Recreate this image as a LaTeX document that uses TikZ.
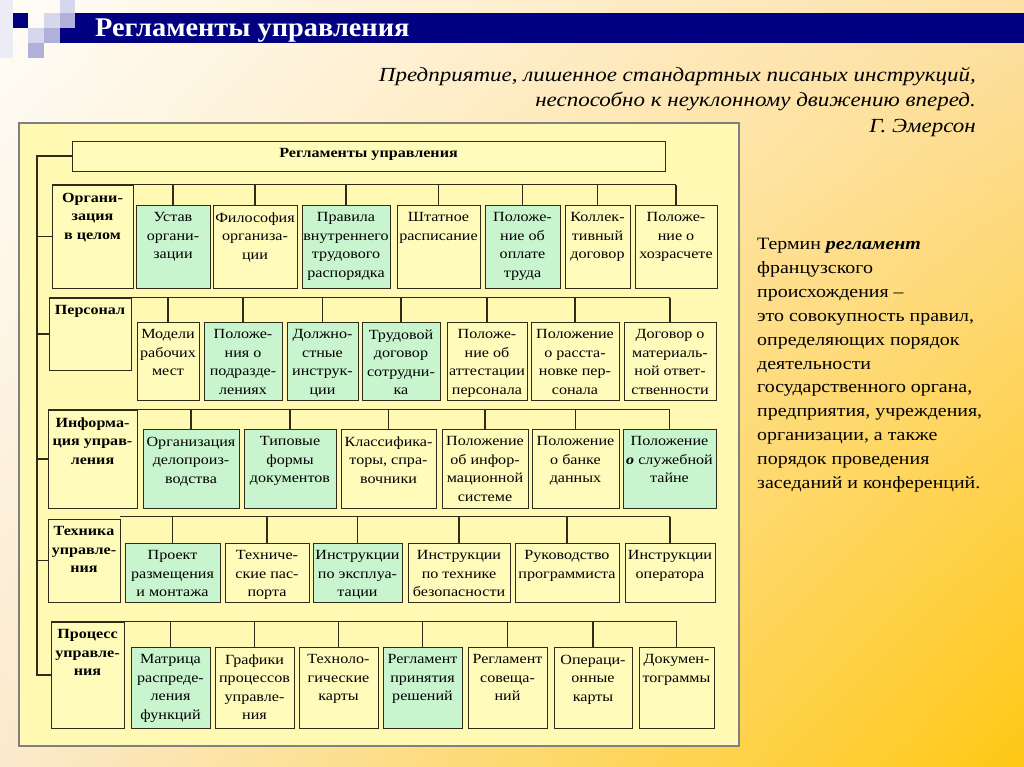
\documentclass[tikz,border=0pt]{standalone}
\usepackage{fontspec}
\setmainfont{Liberation Serif}[FakeStretch=1.15]
\newfontfamily\titlefont{Liberation Serif}[FakeStretch=1.05]
\usetikzlibrary{fit,shadings}

\definecolor{navy}{RGB}{0,0,128}
\definecolor{lavlight}{RGB}{214,214,236}
\definecolor{lavmid}{RGB}{176,176,218}
\definecolor{lavfaint}{RGB}{236,236,246}
\definecolor{bgul}{RGB}{255,253,248}
\definecolor{bgur}{RGB}{253,224,165}
\definecolor{bgll}{RGB}{251,234,205}
\definecolor{bglr}{RGB}{255,200,20}
\definecolor{panelfill}{RGB}{255,249,180}
\definecolor{boxyellow}{RGB}{255,251,186}
\definecolor{boxgreen}{RGB}{200,245,205}
\definecolor{boxline}{RGB}{45,45,25}

\newcommand{\regbox}[6][lbl]{%
  \node[#3, fit={(#4) (#5)}] (#2) {};
  \node[#1] (#2-t) at ([yshift=-8pt]#2.north) {#6};}

\begin{document}
\begin{tikzpicture}[x=1pt,y=-1pt,
	ybox/.style={draw=boxline, fill=boxyellow, line width=0.9pt, inner sep=0pt},
	gbox/.style={draw=boxline, fill=boxgreen, line width=0.9pt, inner sep=0pt},
	lbl/.style={anchor=north, align=center, inner sep=0pt, font=\fontsize{14}{18.5}\selectfont},
	catlbl/.style={lbl, font=\bfseries\fontsize{14}{18.5}\selectfont},
	link/.style={line width=1.3pt, draw=boxline}]
	
	% background
	\shade[upper left=bgul, upper right=bgur, lower left=bgll, lower right=bglr]
	(0,0) rectangle (1024,767);
	
	% corner squares and title bar
	\fill[lavfaint] (0,0) rectangle (13,58);
	\fill[navy] (13,13) rectangle (28,28);
	\fill[lavlight] (60,0) rectangle (75,13);
	\fill[lavlight] (44,13) rectangle (60,28);
	\fill[lavmid] (60,13) rectangle (75,28);
	\fill[lavlight] (28,28) rectangle (44,43);
	\fill[lavmid] (44,28) rectangle (60,43);
	\fill[lavmid] (28,43) rectangle (44,58);
	\fill[navy] (75,13) rectangle (1024,43);
	\fill[navy] (60,28) rectangle (75,43);
	\node[anchor=base west, inner sep=0pt, text=white, font=\titlefont\bfseries\fontsize{27}{30}\selectfont] (title) at (95,37) {Регламенты управления};
	
	% quote
	\node[anchor=north east, align=right, inner sep=0pt, font=\itshape\fontsize{20}{25.5}\selectfont] (quote) at (976,67)
	{Предприятие, лишенное стандартных писаных инструкций,\\
	 неспособно к неуклонному движению вперед.\\
	 Г. Эмерсон};
	
	% panel
	\draw[line width=2pt, draw=gray, fill=panelfill] (19,123) rectangle (739,746);
	
	% head box
	\regbox[catlbl]{top}{ybox}{72,141}{665,171}{Регламенты управления}
	
	% row 1
	\regbox[catlbl]{org}{ybox}{52,185}{133,288}{Органи-\\зация\\в целом}
	\regbox{o1}{gbox}{136,205}{210,288}{Устав\\органи-\\зации}
	\regbox{o2}{ybox}{213,205}{297,288}{Философия\\организа-\\ции}
	\regbox{o3}{gbox}{302,205}{390,288}{Правила\\внутреннего\\трудового\\распорядка}
	\regbox{o4}{ybox}{397,205}{480,288}{Штатное\\расписание}
	\regbox{o5}{gbox}{485,205}{560,288}{Положе-\\ние об\\оплате\\труда}
	\regbox{o6}{ybox}{565,205}{630,288}{Коллек-\\тивный\\договор}
	\regbox{o7}{ybox}{635,205}{717,288}{Положе-\\ние о\\хозрасчете}
	
	% row 2
	\regbox[catlbl]{pers}{ybox}{49,298}{131,370}{Персонал}
	\regbox{p1}{ybox}{137,322}{199,400}{Модели\\рабочих\\мест}
	\regbox{p2}{gbox}{204,322}{282,400}{Положе-\\ния о\\подразде-\\лениях}
	\regbox{p3}{gbox}{287,322}{358,400}{Должно-\\стные\\инструк-\\ции}
	\regbox{p4}{gbox}{362,322}{440,400}{Трудовой\\договор\\сотрудни-\\ка}
	\regbox{p5}{ybox}{447,322}{527,400}{Положе-\\ние об\\аттестации\\персонала}
	\regbox{p6}{ybox}{531,322}{619,400}{Положение\\о расста-\\новке пер-\\сонала}
	\regbox{p7}{ybox}{624,322}{716,400}{Договор о\\материаль-\\ной ответ-\\ственности}
	
	% row 3
	\regbox[catlbl]{info}{ybox}{48,410}{137,508}{Информа-\\ция управ-\\ления}
	\regbox{i1}{gbox}{143,429}{239,508}{Организация\\делопроиз-\\водства}
	\regbox{i2}{gbox}{244,429}{336,508}{Типовые\\формы\\документов}
	\regbox{i3}{ybox}{341,429}{436,508}{Классифика-\\торы, спра-\\вочники}
	\regbox{i4}{ybox}{442,429}{528,508}{Положение\\об инфор-\\мационной\\системе}
	\regbox{i5}{ybox}{532,429}{619,508}{Положение\\о банке\\данных}
	\regbox{i6}{gbox}{623,429}{716,508}{Положение\\{\bfseries\itshape о} служебной\\тайне}
	
	% row 4
	\regbox[catlbl]{tech}{ybox}{48,519}{120,602}{Техника\\управле-\\ния}
	\regbox{t1}{gbox}{125,543}{220,602}{Проект\\размещения\\и монтажа}
	\regbox{t2}{ybox}{225,543}{309,602}{Техниче-\\ские пас-\\порта}
	\regbox{t3}{gbox}{313,543}{402,602}{Инструкции\\по эксплуа-\\тации}
	\regbox{t4}{ybox}{408,543}{510,602}{Инструкции\\по технике\\безопасности}
	\regbox{t5}{ybox}{515,543}{619,602}{Руководство\\программиста}
	\regbox{t6}{ybox}{625,543}{715,602}{Инструкции\\оператора}
	
	% row 5
	\regbox[catlbl]{proc}{ybox}{51,622}{124,728}{Процесс\\управле-\\ния}
	\regbox{s1}{gbox}{131,647}{210,728}{Матрица\\распреде-\\ления\\функций}
	\regbox{s2}{ybox}{215,647}{294,728}{Графики\\процессов\\управле-\\ния}
	\regbox{s3}{ybox}{299,647}{378,728}{Техноло-\\гические\\карты}
	\regbox{s4}{gbox}{383,647}{462,728}{Регламент\\принятия\\решений}
	\regbox{s5}{ybox}{468,647}{547,728}{Регламент\\совеща-\\ний}
	\regbox{s6}{ybox}{554,647}{632,728}{Операци-\\онные\\карты}
	\regbox{s7}{ybox}{639,647}{714,728}{Докумен-\\тограммы}
	
	% spine
	\coordinate (spine) at (37,0);
	\draw[link] (top.west) -- (top.west -| spine) -- (proc.west -| spine) -- (proc.west);
	\foreach \c in {org,pers,info,tech}
	\draw[link] (\c.west) -- (\c.west -| spine);
	
	% buses
	\draw[link] (org.north west) -- (org.north west -| o7.north);
	\foreach \b in {o1,o2,o3,o4,o5,o6,o7}
	\draw[link] (\b.north) -- (\b.north |- org.north);
	
	\draw[link] (pers.north west) -- (pers.north west -| p7.north);
	\foreach \b in {p1,p2,p3,p4,p5,p6,p7}
	\draw[link] (\b.north) -- (\b.north |- pers.north);
	
	\draw[link] (info.north west) -- (info.north west -| i6.north);
	\foreach \b in {i1,i2,i3,i4,i5,i6}
	\draw[link] (\b.north) -- (\b.north |- info.north);
	
	\draw[link] ([yshift=2pt]tech.north east) -- ([yshift=2pt]tech.north east -| t6.north);
	\foreach \b in {t1,t2,t3,t4,t5,t6}
	\draw[link] (\b.north) -- ([yshift=2pt]\b.north |- tech.north);
	
	\draw[link] (proc.north west) -- (proc.north west -| s7.north);
	\foreach \b in {s1,s2,s3,s4,s5,s6,s7}
	\draw[link] (\b.north) -- (\b.north |- proc.north);
	
	% term text
	\node[anchor=north west, align=left, inner sep=0pt, font=\fontsize{17.3}{23.9}\selectfont] (term) at (757,238)
	{Термин \textbf{\textit{регламент}}\\
	 французского\\
	 происхождения --\\
	 это совокупность правил,\\
	 определяющих порядок\\
	 деятельности\\
	 государственного органа,\\
	 предприятия, учреждения,\\
	 организации, а также\\
	 порядок проведения\\
	 заседаний и конференций.};
	
\end{tikzpicture}
\end{document}
